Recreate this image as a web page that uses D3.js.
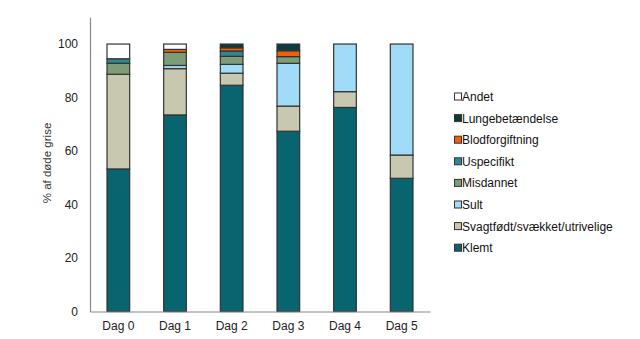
<!DOCTYPE html>
<html><head><meta charset="utf-8">
<script src="https://cdn.jsdelivr.net/npm/d3@7"></script>
<style>body{margin:0;background:#fff}svg{display:block;font-family:"Liberation Sans",Arial,sans-serif}</style>
</head><body><svg width="640" height="339"></svg>
<script>
const categories = ["Dag 0","Dag 1","Dag 2","Dag 3","Dag 4","Dag 5"];
const seriesNames = ["Klemt","Svagtfødt/svækket/utrivelige","Sult","Misdannet","Uspecifikt","Blodforgiftning","Lungebetændelse","Andet"];
const klemt      = [53.3, 73.5, 84.6, 67.4, 76.3, 49.8];
const svagtfoedt = [35.4, 17.3, 4.5, 9.4, 5.9, 8.7];
const sult       = [0, 1.2, 3.3, 16.0, 17.8, 41.5];
const misdannet  = [4.1, 4.9, 3.0, 2.5, 0, 0];
const uspecifikt = [1.7, 0, 2.0, 0, 0, 0];
const blod       = [0, 1.1, 1.2, 2.2, 0, 0];
const lunge      = [0, 0, 1.4, 2.5, 0, 0];
const andet      = [5.5, 2.0, 0, 0, 0, 0];
const yTicks = [0,20,40,60,80,100];
const colors = ["#08646f","#c8c8b0","#a0dcf8","#7f9c78","#2f8796","#f0600c","#0b3c40","#ffffff"];

const seriesValues = [klemt, svagtfoedt, sult, misdannet, uspecifikt, blod, lunge, andet];
const table = categories.map((c,i)=>{const o={cat:c}; seriesNames.forEach((s,j)=>o[s]=seriesValues[j][i]); return o;});
const stack = d3.stack().keys(seriesNames)(table);

const svg = d3.select("svg");
const x = d3.scaleBand().domain(categories).range([90,430]).paddingInner(0.6).paddingOuter(0.3);
const y = d3.scaleLinear().domain([0,110]).range([311.5,17.3]);

const g = svg.append("g");
stack.forEach((layer,j)=>{
  g.selectAll(null).data(layer.filter(d=>d[1]-d[0]>0)).join("rect")
    .attr("x", d=>x(d.data.cat))
    .attr("width", x.bandwidth())
    .attr("y", d=>y(d[1]))
    .attr("height", d=>y(d[0])-y(d[1]))
    .attr("fill", colors[j])
    .attr("stroke","#333").attr("stroke-width",1.2);
});

// axes
const ya = svg.append("g").attr("transform","translate(90,0)")
  .call(d3.axisLeft(y).tickValues(yTicks).tickSize(0).tickPadding(12));
ya.select(".domain").attr("stroke","#888").attr("stroke-width",1.2);
ya.selectAll("text").attr("font-size",12).attr("fill","#222").attr("font-family","Liberation Sans, Arial, sans-serif");

const xa = svg.append("g").attr("transform","translate(0,311.5)")
  .call(d3.axisBottom(x).tickSize(0).tickPadding(10));
xa.select(".domain").attr("stroke","#888").attr("stroke-width",1.2);
xa.selectAll("text").attr("font-size",12).attr("fill","#222").attr("font-family","Liberation Sans, Arial, sans-serif");

svg.append("text").attr("transform","translate(51,163) rotate(-90)")
  .attr("text-anchor","middle").attr("font-size",11.5).attr("fill","#333").text("% af døde grise");

// legend
const legendOrder = seriesNames.map((s,i)=>({s,c:colors[i]})).reverse();
const lg = svg.append("g");
legendOrder.forEach((d,i)=>{
  const yy = 97 + i*21.6;
  lg.append("rect").attr("x",454.5).attr("y",yy-4).attr("width",7).attr("height",7)
    .attr("fill",d.c).attr("stroke","#333").attr("stroke-width",1);
  lg.append("text").attr("x",462).attr("y",yy+4).attr("font-size",12).attr("fill","#111").text(d.s);
});
</script></body></html>
